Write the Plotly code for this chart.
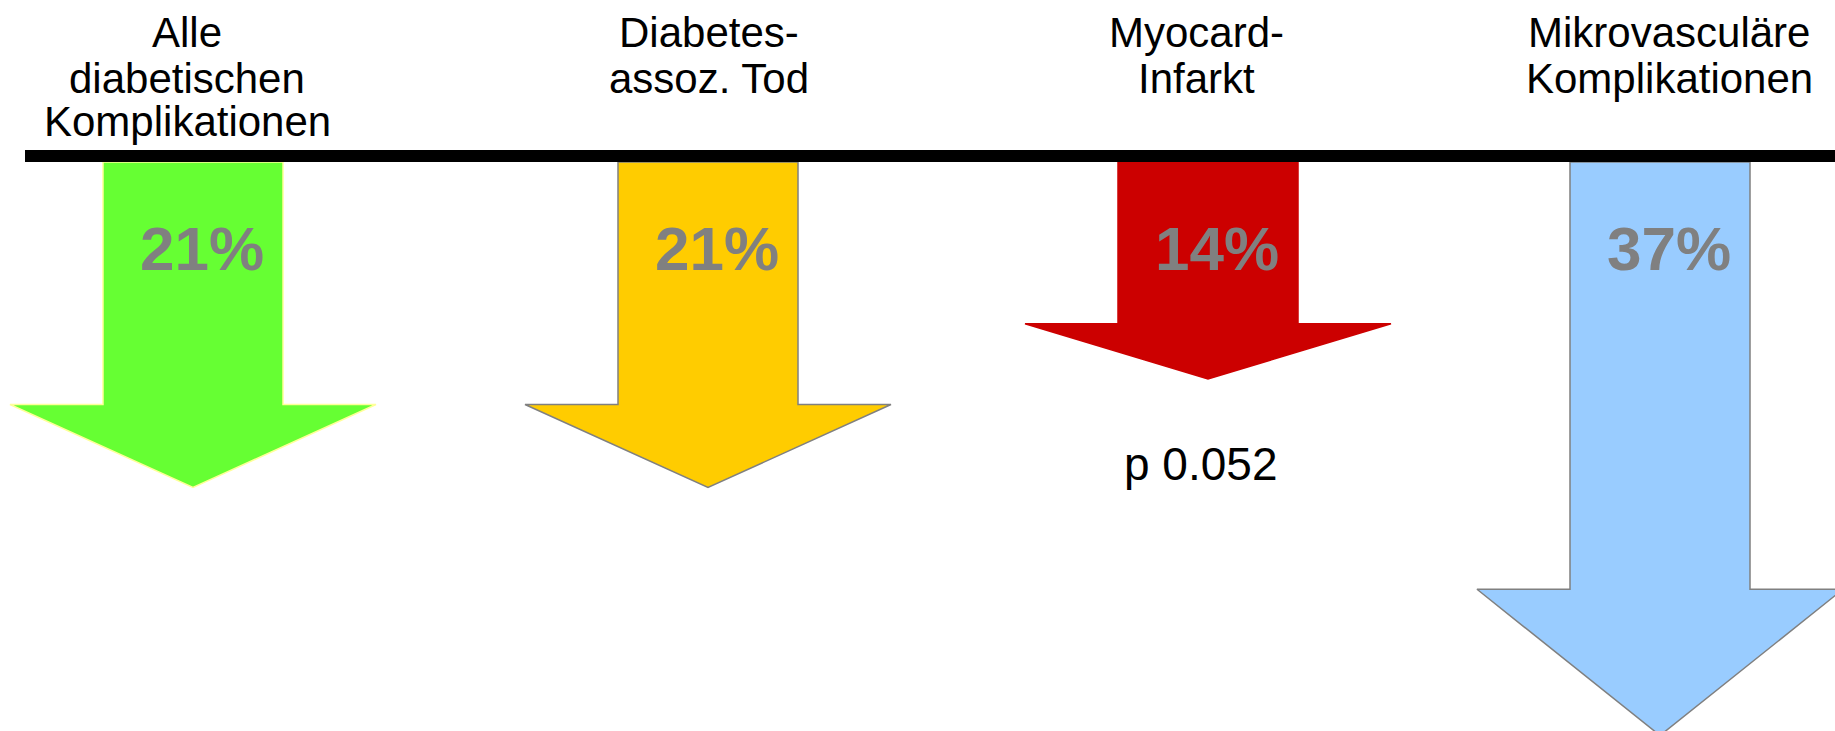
import plotly.graph_objects as go

# ---- data ----
categories = [
    ["Alle", "diabetischen", "Komplikationen"],
    ["Diabetes-", "assoz. Tod"],
    ["Myocard-", "Infarkt"],
    ["Mikrovasculäre", "Komplikationen"],
]
reductions = [21, 21, 14, 37]          # % risk reduction
value_labels = ["21%", "21%", "14%", "37%"]
p_notes = ["", "", "p 0.052", ""]

# ---- styles / layout constants ----
fill_colors = ["#66FF33", "#FFCC00", "#CC0000", "#99CCFF"]
edge_colors = ["#FFFF99", "#808080", "#CC0000", "#808080"]
arrow_x = [193, 708, 1208, 1660]       # arrow centre positions (x axis units = px)
header_x = [187, 709, 1196, 1669]
W, H = 1835, 731
ZERO_PX = 162
PX_PER_PCT = 15.5
SHAFT_HALF = 90
HEAD_HALF = 183
HEAD_FRAC = 0.255
FONT = "Arial, Liberation Sans, sans-serif"
TEXT_SHIFT = 4

fig = go.Figure()

for i, v in enumerate(reductions):
    cx = arrow_x[i]
    sh = -(v - v * HEAD_FRAC)
    xs = [cx - SHAFT_HALF, cx + SHAFT_HALF, cx + SHAFT_HALF, cx + HEAD_HALF, cx,
          cx - HEAD_HALF, cx - SHAFT_HALF, cx - SHAFT_HALF]
    ys = [0, 0, sh, sh, -v, sh, sh, 0]
    fig.add_trace(go.Scatter(
        x=xs, y=ys, mode="lines", fill="toself",
        fillcolor=fill_colors[i],
        line=dict(color=edge_colors[i], width=1.5),
        hoverinfo="skip", showlegend=False,
    ))
    # percentage label
    fig.add_annotation(
        x=cx + 9, y=-(244.5 + TEXT_SHIFT - ZERO_PX) / PX_PER_PCT, xref="x", yref="y",
        text=f"<b>{value_labels[i]}</b>", showarrow=False,
        font=dict(family=FONT, size=62, color="#808080"),
        xanchor="center", yanchor="middle",
    )
    if p_notes[i]:
        fig.add_annotation(
            x=cx - 8, y=-(460 + TEXT_SHIFT - ZERO_PX) / PX_PER_PCT, xref="x", yref="y",
            text=p_notes[i], showarrow=False,
            font=dict(family=FONT, size=46, color="#000000"),
            xanchor="center", yanchor="middle",
        )
    # header lines
    line_mid_px = [28, 74, 118]
    for j, line in enumerate(categories[i]):
        fig.add_annotation(
            x=header_x[i], y=1 - (line_mid_px[j] + TEXT_SHIFT) / H, xref="x", yref="paper",
            text=line, showarrow=False,
            font=dict(family=FONT, size=42, color="#000000"),
            xanchor="center", yanchor="middle",
        )

# baseline bar
fig.add_shape(type="rect", xref="x", yref="y", x0=25, x1=W,
              y0=0, y1=12 / PX_PER_PCT, fillcolor="#000000",
              line=dict(width=0), layer="above")

fig.update_layout(
    width=W, height=H,
    margin=dict(l=0, r=0, t=0, b=0),
    paper_bgcolor="white", plot_bgcolor="white",
    xaxis=dict(range=[0, W], visible=False, fixedrange=True),
    yaxis=dict(range=[-(H - ZERO_PX) / PX_PER_PCT, ZERO_PX / PX_PER_PCT],
               visible=False, fixedrange=True),
)

fig.write_html("out.html")
